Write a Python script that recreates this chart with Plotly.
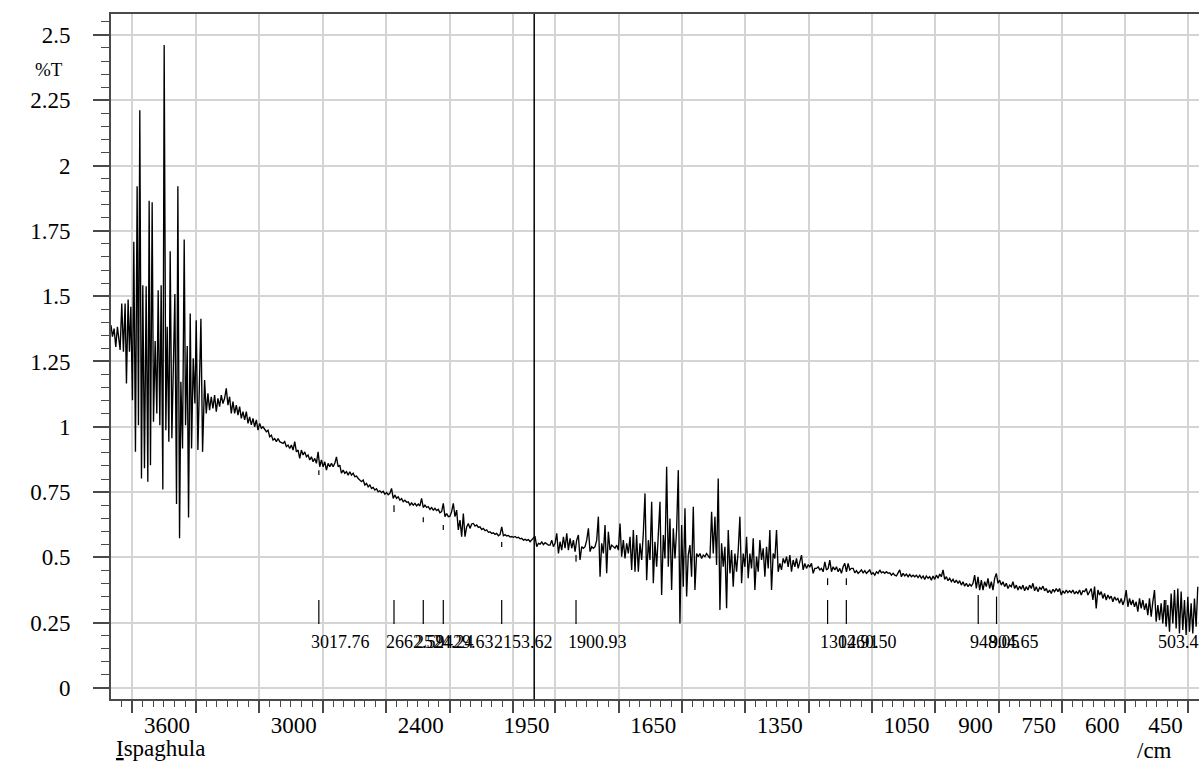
import plotly.graph_objects as go

# ---------------- spectrum data (wavenumber 1/cm, %T) ----------------
wn_a = [4000.0, 3993.2, 3985.3, 3977.5, 3969.6, 3956.9, 3949.1, 3941.2, 3933.3, 3927.0,
        3919.1, 3912.8, 3906.4, 3898.6, 3892.2, 3884.4, 3876.5, 3870.2, 3863.9, 3856.0,
        3849.7, 3841.8, 3833.9, 3826.0, 3819.7, 3813.4, 3805.5, 3799.2, 3791.3, 3783.4,
        3777.1, 3769.2, 3762.9, 3755.0, 3748.7, 3740.8, 3734.5, 3726.6, 3720.3, 3712.4,
        3698.2, 3690.3, 3684.0, 3676.1, 3669.8, 3661.9, 3654.0, 3647.7, 3639.8, 3633.5,
        3625.6, 3619.3, 3611.4, 3603.5, 3597.2, 3589.3, 3575.1, 3567.2]
t_a = [1.389, 1.345, 1.376, 1.306, 1.383, 1.294, 1.472, 1.287, 1.472, 1.166,
       1.487, 1.287, 1.459, 1.102, 1.708, 0.904, 1.921, 1.006, 2.212, 0.802,
       1.542, 0.841, 1.538, 0.790, 1.865, 0.853, 1.859, 1.019, 1.328, 1.051,
       1.523, 1.006, 1.542, 0.760, 2.461, 0.987, 1.383, 0.943, 1.672, 0.956,
       1.508, 0.704, 1.921, 0.573, 1.172, 0.917, 1.717, 1.006, 1.309, 0.653,
       1.434, 0.917, 1.262, 1.089, 1.408, 0.911, 1.413, 0.904]

wn_b = [3557.7, 3549.8, 3541.9, 3534.1, 3526.2, 3518.3, 3510.4, 3502.5, 3494.6, 3486.7,
        3478.8, 3470.9, 3463.1, 3455.2, 3447.3, 3439.4, 3431.5, 3423.6, 3415.7, 3407.8,
        3399.9, 3392.1, 3384.2, 3376.3, 3368.4, 3360.5, 3352.6, 3344.7, 3336.8, 3328.9,
        3321.1, 3313.2, 3305.3, 3297.4, 3289.5, 3281.6, 3265.8, 3257.9, 3250.1, 3242.2,
        3234.3, 3226.4, 3218.5, 3210.6, 3202.7, 3186.9, 3179.1, 3171.2, 3163.3, 3155.4,
        3147.5, 3139.6, 3131.7, 3123.8, 3115.9, 3108.1, 3100.2, 3092.3, 3084.4, 3076.5,
        3068.6, 3060.7, 3052.8, 3044.9, 3037.1, 3029.2, 3021.3, 3013.4, 3005.5, 2997.6,
        2989.7, 2981.8, 2973.9, 2966.1, 2958.2, 2950.3, 2942.4, 2934.5, 2926.6, 2918.7,
        2910.8, 2902.9, 2895.1, 2887.2, 2879.3, 2871.4, 2863.5, 2855.6, 2847.7, 2839.8,
        2831.9, 2824.1, 2816.2, 2808.3, 2800.4, 2792.5, 2784.6, 2776.7, 2768.8, 2760.9,
        2753.1, 2745.2, 2737.3, 2729.4, 2721.5, 2713.6, 2705.7, 2697.8, 2689.9, 2682.1,
        2674.2, 2666.3, 2658.4, 2650.5, 2642.6, 2634.7, 2626.8, 2618.9, 2611.1, 2603.2,
        2595.3, 2587.4, 2579.5, 2571.6, 2563.7, 2555.8, 2547.9, 2540.1, 2532.2, 2524.3,
        2516.4, 2508.5, 2500.6, 2492.7, 2484.8, 2476.9, 2469.1, 2461.2, 2453.3, 2445.4,
        2437.5, 2429.6, 2421.7, 2413.8, 2405.9, 2398.1, 2390.2, 2382.3, 2374.4, 2366.5,
        2358.6, 2350.7, 2342.8, 2334.9, 2327.1, 2319.2, 2311.3, 2303.4, 2295.5, 2287.6,
        2279.7, 2271.8, 2263.9, 2256.1, 2248.2, 2240.3, 2232.4, 2224.5, 2216.6, 2208.7,
        2200.8, 2192.9, 2185.1, 2177.2, 2169.3, 2161.4, 2153.5, 2145.6, 2137.7, 2129.8,
        2121.9, 2114.1, 2106.2, 2098.3, 2090.4, 2082.5, 2074.6, 2066.7, 2058.8, 2050.9,
        2043.1, 2035.2, 2027.3, 2019.4, 2011.5, 2003.6, 1997.9, 1994.0, 1990.0, 1986.0,
        1982.1, 1978.1, 1974.2, 1966.3]
t_b = [1.179, 1.051, 1.128, 1.064, 1.115, 1.070, 1.121, 1.058, 1.109, 1.077,
       1.121, 1.089, 1.109, 1.147, 1.083, 1.115, 1.051, 1.096, 1.051, 1.083,
       1.045, 1.077, 1.032, 1.058, 1.026, 1.058, 1.013, 1.038, 1.007, 1.032,
       1.000, 1.026, 0.987, 1.013, 0.994, 1.000, 0.981, 0.987, 0.962, 0.968,
       0.949, 0.955, 0.943, 0.955, 0.943, 0.936, 0.943, 0.924, 0.930, 0.917,
       0.930, 0.911, 0.943, 0.904, 0.911, 0.879, 0.911, 0.892, 0.904, 0.885,
       0.892, 0.873, 0.885, 0.866, 0.879, 0.860, 0.904, 0.847, 0.873, 0.847,
       0.866, 0.834, 0.860, 0.847, 0.860, 0.847, 0.860, 0.885, 0.847, 0.853,
       0.822, 0.834, 0.822, 0.828, 0.815, 0.828, 0.815, 0.822, 0.809, 0.811,
       0.802, 0.796, 0.790, 0.796, 0.777, 0.783, 0.770, 0.777, 0.764, 0.768,
       0.758, 0.763, 0.751, 0.755, 0.748, 0.753, 0.742, 0.748, 0.740, 0.745,
       0.764, 0.726, 0.739, 0.726, 0.732, 0.719, 0.725, 0.713, 0.719, 0.711,
       0.713, 0.700, 0.709, 0.700, 0.707, 0.697, 0.704, 0.697, 0.726, 0.691,
       0.700, 0.691, 0.694, 0.684, 0.691, 0.681, 0.688, 0.679, 0.684, 0.671,
       0.675, 0.707, 0.656, 0.668, 0.656, 0.658, 0.675, 0.707, 0.656, 0.681,
       0.605, 0.643, 0.579, 0.668, 0.579, 0.617, 0.630, 0.611, 0.628, 0.630,
       0.620, 0.624, 0.615, 0.617, 0.607, 0.611, 0.602, 0.605, 0.596, 0.598,
       0.592, 0.594, 0.588, 0.592, 0.583, 0.587, 0.617, 0.583, 0.587, 0.582,
       0.584, 0.578, 0.580, 0.577, 0.580, 0.575, 0.577, 0.571, 0.573, 0.566,
       0.569, 0.565, 0.568, 0.560, 0.566, 0.573, 0.579, 0.541, 0.554, 0.551,
       0.559, 0.549, 0.556, 0.547]

wn_c = [1962.4, 1958.4, 1954.5, 1950.5, 1946.6, 1942.6, 1938.7, 1934.8, 1930.8, 1926.9,
        1922.9, 1919.0, 1915.0, 1911.1, 1907.1, 1903.2, 1899.3, 1895.3, 1891.4, 1887.4,
        1883.5, 1879.5, 1875.6, 1871.6, 1867.7, 1863.8, 1859.8, 1855.9, 1851.9, 1848.0,
        1844.0, 1840.1, 1836.1, 1832.2, 1828.3, 1824.3, 1820.4, 1816.4, 1812.5, 1808.5,
        1804.6, 1800.6, 1796.7, 1792.8, 1788.8, 1784.9, 1780.9, 1777.0, 1773.0, 1769.1,
        1765.1, 1761.2, 1757.3, 1753.3, 1749.4, 1745.4, 1741.5, 1737.5, 1733.6, 1729.6,
        1725.7, 1721.7, 1717.8, 1713.9, 1709.9, 1706.0, 1702.0, 1698.1, 1694.1, 1690.2,
        1686.2, 1682.3, 1678.4, 1674.4, 1670.5, 1666.5, 1662.6, 1658.6, 1654.7, 1650.7,
        1646.8, 1642.8, 1638.9, 1635.0, 1631.0, 1627.1, 1623.1, 1619.2, 1615.2, 1611.3,
        1607.3, 1603.4, 1599.5, 1595.5, 1591.6, 1583.7, 1579.7, 1575.8, 1571.8, 1567.9,
        1564.0, 1560.0, 1556.1, 1552.1, 1548.2, 1544.2, 1540.3, 1536.3, 1532.4, 1528.5,
        1524.5, 1520.6, 1516.6, 1512.7, 1508.7, 1504.8, 1500.8, 1496.9, 1493.0, 1489.0,
        1485.1, 1481.1, 1477.2, 1473.2, 1469.3, 1465.3, 1461.4, 1457.5, 1453.5, 1449.6,
        1445.6, 1441.7, 1437.7, 1433.8, 1429.8, 1425.9, 1422.0, 1418.0, 1414.1, 1410.1,
        1406.2, 1402.2, 1398.3, 1394.3, 1390.4, 1386.5, 1382.5, 1378.6, 1374.6, 1370.7,
        1366.7, 1362.8, 1358.8, 1354.9, 1351.0, 1347.0, 1343.1, 1339.1, 1335.2, 1331.2,
        1327.3, 1323.3, 1319.4, 1315.5, 1311.5, 1307.6, 1303.6, 1299.7, 1295.7, 1291.8,
        1287.8, 1283.9, 1279.9, 1276.0, 1272.1, 1268.1, 1264.2, 1260.2, 1256.3, 1252.3,
        1248.4, 1244.4]
t_c = [0.547, 0.566, 0.541, 0.554, 0.592, 0.515, 0.560, 0.528, 0.579, 0.535,
       0.592, 0.528, 0.573, 0.535, 0.566, 0.522, 0.566, 0.586, 0.490, 0.541,
       0.535, 0.541, 0.566, 0.611, 0.522, 0.541, 0.535, 0.541, 0.566, 0.656,
       0.426, 0.554, 0.515, 0.624, 0.439, 0.598, 0.528, 0.547, 0.541, 0.535,
       0.547, 0.528, 0.630, 0.503, 0.566, 0.496, 0.554, 0.515, 0.579, 0.452,
       0.605, 0.445, 0.586, 0.445, 0.554, 0.490, 0.592, 0.745, 0.413, 0.566,
       0.490, 0.713, 0.401, 0.560, 0.464, 0.598, 0.713, 0.356, 0.586, 0.496,
       0.847, 0.464, 0.649, 0.375, 0.611, 0.496, 0.605, 0.834, 0.247, 0.624,
       0.388, 0.688, 0.350, 0.509, 0.547, 0.426, 0.694, 0.375, 0.515, 0.503,
       0.515, 0.496, 0.509, 0.503, 0.515, 0.496, 0.675, 0.515, 0.656, 0.471,
       0.802, 0.299, 0.554, 0.464, 0.541, 0.305, 0.605, 0.439, 0.528, 0.388,
       0.515, 0.445, 0.528, 0.656, 0.401, 0.515, 0.464, 0.579, 0.420, 0.515,
       0.458, 0.573, 0.375, 0.503, 0.445, 0.566, 0.490, 0.535, 0.426, 0.541,
       0.458, 0.605, 0.375, 0.515, 0.496, 0.605, 0.445, 0.477, 0.452, 0.496,
       0.477, 0.503, 0.464, 0.509, 0.445, 0.490, 0.464, 0.496, 0.458, 0.483,
       0.509, 0.452, 0.477, 0.458, 0.471, 0.464, 0.477, 0.439, 0.458, 0.458,
       0.464, 0.452, 0.458, 0.445, 0.483, 0.452, 0.458, 0.490, 0.445, 0.464,
       0.452, 0.464, 0.445, 0.458, 0.439, 0.464, 0.477, 0.445, 0.477, 0.452,
       0.458, 0.458]

wn_d = [1240.5, 1236.5, 1232.6, 1228.6, 1224.7, 1220.8, 1216.8, 1212.9, 1208.9, 1205.0,
        1201.0, 1197.1, 1193.1, 1189.2, 1185.2, 1181.3, 1177.4, 1173.4, 1169.5, 1165.5,
        1161.6, 1157.6, 1153.7, 1149.7, 1145.8, 1141.9, 1137.9, 1134.0, 1130.0, 1126.1,
        1122.1, 1118.2, 1114.2, 1110.3, 1106.4, 1102.4, 1098.5, 1094.5, 1090.6, 1086.6,
        1082.7, 1078.7, 1074.8, 1070.9, 1066.9, 1063.0, 1059.0, 1055.1, 1051.1, 1047.2,
        1043.2, 1039.3, 1035.4, 1031.4, 1027.5, 1023.5, 1019.6, 1015.6, 1011.7, 1007.7,
        1003.8, 999.9, 995.9, 992.0, 988.0, 984.1, 980.1, 976.2, 972.2, 968.3,
        964.4, 960.4, 956.5, 952.5, 948.6, 944.6, 940.7, 936.7, 932.8, 928.9,
        924.9, 921.0, 917.0, 913.1, 909.1, 905.2, 901.2, 897.3, 893.3, 889.4,
        885.5, 881.5, 877.6, 873.6, 869.7, 865.7, 861.8, 857.8, 853.9, 850.0,
        846.0, 842.1, 838.1, 834.2, 830.2, 826.3, 822.3, 818.4, 814.5, 810.5,
        806.6, 802.6, 798.7, 794.7, 790.8, 786.8, 782.9, 779.0, 775.0, 771.1,
        767.1, 763.2, 759.2, 755.3, 751.3, 747.4, 743.4, 739.5, 735.6, 731.6,
        727.7, 723.7, 719.8, 715.8, 711.9, 707.9, 704.0, 700.1, 696.1, 692.2,
        688.2, 684.3, 680.3, 676.4, 672.4, 668.5, 664.6, 660.6, 656.7, 652.7,
        648.8, 644.8, 640.9, 636.9, 633.0, 629.1, 625.1, 621.2, 617.2, 613.3,
        609.3, 605.4, 601.4, 597.5, 593.5, 589.6, 585.7, 581.7, 577.8, 573.8,
        569.9, 565.9, 562.0, 558.0, 554.1, 550.2, 546.2, 542.3, 538.3, 534.4,
        530.4, 526.5, 522.5, 518.6, 514.7, 510.7, 506.8, 502.8, 498.9, 494.9,
        491.0, 487.0, 483.1, 479.1, 475.2, 471.3, 467.3, 463.4, 459.4, 455.5,
        451.5, 447.6, 443.6, 439.7, 435.8, 431.8, 427.9]
t_d = [0.441, 0.449, 0.439, 0.445, 0.452, 0.441, 0.449, 0.439, 0.445, 0.452,
       0.436, 0.441, 0.432, 0.445, 0.439, 0.452, 0.441, 0.445, 0.439, 0.445,
       0.439, 0.441, 0.432, 0.439, 0.432, 0.429, 0.441, 0.452, 0.426, 0.439,
       0.429, 0.436, 0.426, 0.435, 0.426, 0.432, 0.426, 0.432, 0.423, 0.432,
       0.420, 0.429, 0.416, 0.429, 0.420, 0.426, 0.413, 0.429, 0.416, 0.432,
       0.420, 0.436, 0.426, 0.452, 0.416, 0.426, 0.411, 0.420, 0.407, 0.416,
       0.403, 0.413, 0.400, 0.411, 0.394, 0.407, 0.390, 0.401, 0.388, 0.398,
       0.390, 0.401, 0.432, 0.381, 0.426, 0.375, 0.413, 0.375, 0.407, 0.388,
       0.420, 0.381, 0.407, 0.375, 0.420, 0.439, 0.401, 0.413, 0.394, 0.407,
       0.388, 0.401, 0.381, 0.394, 0.388, 0.407, 0.381, 0.394, 0.375, 0.390,
       0.378, 0.394, 0.372, 0.388, 0.375, 0.394, 0.381, 0.401, 0.372, 0.388,
       0.369, 0.385, 0.378, 0.390, 0.372, 0.381, 0.365, 0.375, 0.362, 0.378,
       0.369, 0.381, 0.369, 0.381, 0.356, 0.372, 0.362, 0.375, 0.365, 0.372,
       0.365, 0.375, 0.360, 0.369, 0.362, 0.375, 0.356, 0.372, 0.369, 0.381,
       0.356, 0.369, 0.381, 0.337, 0.388, 0.305, 0.375, 0.356, 0.369, 0.343,
       0.362, 0.337, 0.356, 0.343, 0.352, 0.330, 0.349, 0.337, 0.343, 0.324,
       0.343, 0.318, 0.337, 0.375, 0.311, 0.343, 0.318, 0.337, 0.311, 0.330,
       0.292, 0.343, 0.305, 0.337, 0.299, 0.324, 0.279, 0.343, 0.273, 0.330,
       0.375, 0.254, 0.318, 0.260, 0.324, 0.247, 0.337, 0.235, 0.318, 0.216,
       0.362, 0.247, 0.375, 0.228, 0.381, 0.209, 0.369, 0.222, 0.337, 0.203,
       0.349, 0.216, 0.324, 0.209, 0.343, 0.235, 0.388]

# ---------------- peak picks ----------------
peak_wn = [3017.76, 2662.59, 2524.24, 2429.63, 2153.62, 1900.93,
           1304.91, 1260.50, 948.05, 904.65, 503.46]
peak_labels = ["3017.76", "2662.59", "2524.24", "2429.63", "2153.62", "1900.93",
               "1304.91", "1260.50", "948.05", "904.65", "503.46"]
peak_tick_top = [0.337, 0.337, 0.337, 0.337, 0.337, 0.337,
                 0.337, 0.337, 0.356, 0.350, 0.337]
peak_tick_bottom = 0.245
peak_mark_top = [0.834, 0.700, 0.654, 0.624, 0.559, 0.509, 0.420, 0.420, None, None, None]
peak_mark_bottom = [0.815, 0.674, 0.635, 0.605, 0.540, 0.483, 0.394, 0.394, None, None, None]
peak_label_y = 0.176

# ---------------- axis ticks ----------------
hi_major = [3900, 3600, 3300, 3000, 2700, 2400, 2100]
hi_text = ["", "3600", "", "3000", "", "2400", ""]
lo_major = [1950, 1800, 1650, 1500, 1350, 1200, 1050, 900, 750, 600, 450]
lo_text = ["1950", "", "1650", "", "1350", "", "1050", "900", "750", "600", "450"]
y_major = [0, 0.25, 0.5, 0.75, 1, 1.25, 1.5, 1.75, 2, 2.25, 2.5]
y_text = ["0", "0.25", "0.5", "0.75", "1", "1.25", "1.5", "1.75", "2", "2.25", "2.5"]

assert len(wn_a) == len(t_a) and len(wn_b) == len(t_b)
assert len(wn_c) == len(t_c) and len(wn_d) == len(t_d)

wn = wn_a + wn_b + wn_c + wn_d
tr = t_a + t_b + t_c + t_d

BREAK = 2000.0  # scale changes here (compressed above, expanded below)
k = next(i for i, w in enumerate(wn) if w < BREAK)
hi_w, hi_t = wn[:k + 1], tr[:k + 1]
lo_w, lo_t = wn[k - 1:], tr[k - 1:]

hi_minor = [w for w in range(3950, 2000, -50) if w % 300 != 0]
lo_minor = [w for w in range(2000, 424, -25) if w % 150 != 0]

# ---------------- layout geometry ----------------
W, H = 1199, 761
ML, MR, MT, MB = 111, 0, 14, 62
PW, PH = W - ML - MR, H - MT - MB
X_SPLIT = (534.2 - ML) / PW


def px_x(p):
    return (p - ML) / PW


def px_y(p):
    return (H - MB - p) / PH


FONT = "Liberation Serif, Times New Roman, Times, serif"
GRID = "#d4d4d4"
AXIS = "#4a4a4a"
INK = "black"

fig = go.Figure()
fig.add_trace(go.Scatter(x=hi_w, y=hi_t, xaxis="x", yaxis="y", mode="lines",
                         line=dict(color=INK, width=1.35), hoverinfo="skip", showlegend=False))
fig.add_trace(go.Scatter(x=lo_w, y=lo_t, xaxis="x2", yaxis="y", mode="lines",
                         line=dict(color=INK, width=1.35), hoverinfo="skip", showlegend=False))

for axis_name, upper in (("x", True), ("x2", False)):
    xs, ys = [], []
    for w, top, mt, mb in zip(peak_wn, peak_tick_top, peak_mark_top, peak_mark_bottom):
        if (w >= BREAK) != upper:
            continue
        xs += [w, w, None]
        ys += [top, peak_tick_bottom, None]
        if mt is not None:
            xs += [w, w, None]
            ys += [mt, mb, None]
    fig.add_trace(go.Scatter(x=xs, y=ys, xaxis=axis_name, yaxis="y", mode="lines",
                             line=dict(color=INK, width=1.2), hoverinfo="skip",
                             showlegend=False, connectgaps=False))

for w, lab in zip(peak_wn, peak_labels):
    fig.add_annotation(x=w, y=peak_label_y, xref="x" if w >= BREAK else "x2", yref="y",
                       text=lab, showarrow=False, xanchor="left", yanchor="middle",
                       xshift=-10, font=dict(family=FONT, size=18, color=INK))

common_x = dict(
    showline=True, linecolor=AXIS, linewidth=2, mirror=True,
    ticks="outside", ticklen=12, tickwidth=1.5, tickcolor=AXIS,
    showgrid=True, gridcolor=GRID, gridwidth=1.5, zeroline=False,
    tickfont=dict(family=FONT, size=23, color=INK),
    ticklabelposition="outside left", ticklabelshift=4, ticklabelstandoff=4,
    tickmode="array", anchor="y", fixedrange=True,
)

fig.update_layout(
    width=W, height=H,
    margin=dict(l=ML, r=MR, t=MT, b=MB, pad=0),
    paper_bgcolor="white", plot_bgcolor="white",
    font=dict(family=FONT, color=INK),
    showlegend=False,
    xaxis=dict(domain=[0, X_SPLIT], range=[4000, BREAK], tickvals=hi_major, ticktext=hi_text,
               minor=dict(tickmode="array", tickvals=hi_minor, ticks="outside", ticklen=6,
                          tickwidth=1, tickcolor=AXIS, showgrid=False),
               **common_x),
    xaxis2=dict(domain=[X_SPLIT, 1], range=[BREAK, 425], tickvals=lo_major, ticktext=lo_text,
                minor=dict(tickmode="array", tickvals=lo_minor, ticks="outside", ticklen=6,
                           tickwidth=1, tickcolor=AXIS, showgrid=False),
                **common_x),
    yaxis=dict(range=[-0.042, 2.58], tickmode="array", tickvals=y_major, ticktext=y_text,
               ticks="outside", ticklen=16, tickwidth=1.5, tickcolor=AXIS,
               showline=True, linecolor=AXIS, linewidth=2, mirror=False,
               showgrid=True, gridcolor=GRID, gridwidth=1.5, zeroline=False,
               tickfont=dict(family=FONT, size=23, color=INK), ticklabelstandoff=18,
               fixedrange=True,
               minor=dict(tick0=0, dtick=0.05, ticks="outside", ticklen=8, tickwidth=1,
                          tickcolor=AXIS, showgrid=False)),
    shapes=[dict(type="line", xref="paper", yref="paper", x0=X_SPLIT, x1=X_SPLIT, y0=0, y1=1,
                 line=dict(color=INK, width=1.5), layer="above")],
)

fig.add_annotation(x=px_x(49), y=px_y(70), xref="paper", yref="paper", text="%T",
                   showarrow=False, xanchor="center", yanchor="middle",
                   font=dict(family=FONT, size=19, color=INK))
fig.add_annotation(x=px_x(114), y=px_y(748), xref="paper", yref="paper",
                   text="<u>I</u>spaghula", showarrow=False, xanchor="left", yanchor="middle",
                   font=dict(family=FONT, size=23, color=INK))
fig.add_annotation(x=px_x(1135), y=px_y(750), xref="paper", yref="paper", text="/cm",
                   showarrow=False, xanchor="left", yanchor="middle",
                   font=dict(family=FONT, size=23, color=INK))

fig.write_html("out.html")
